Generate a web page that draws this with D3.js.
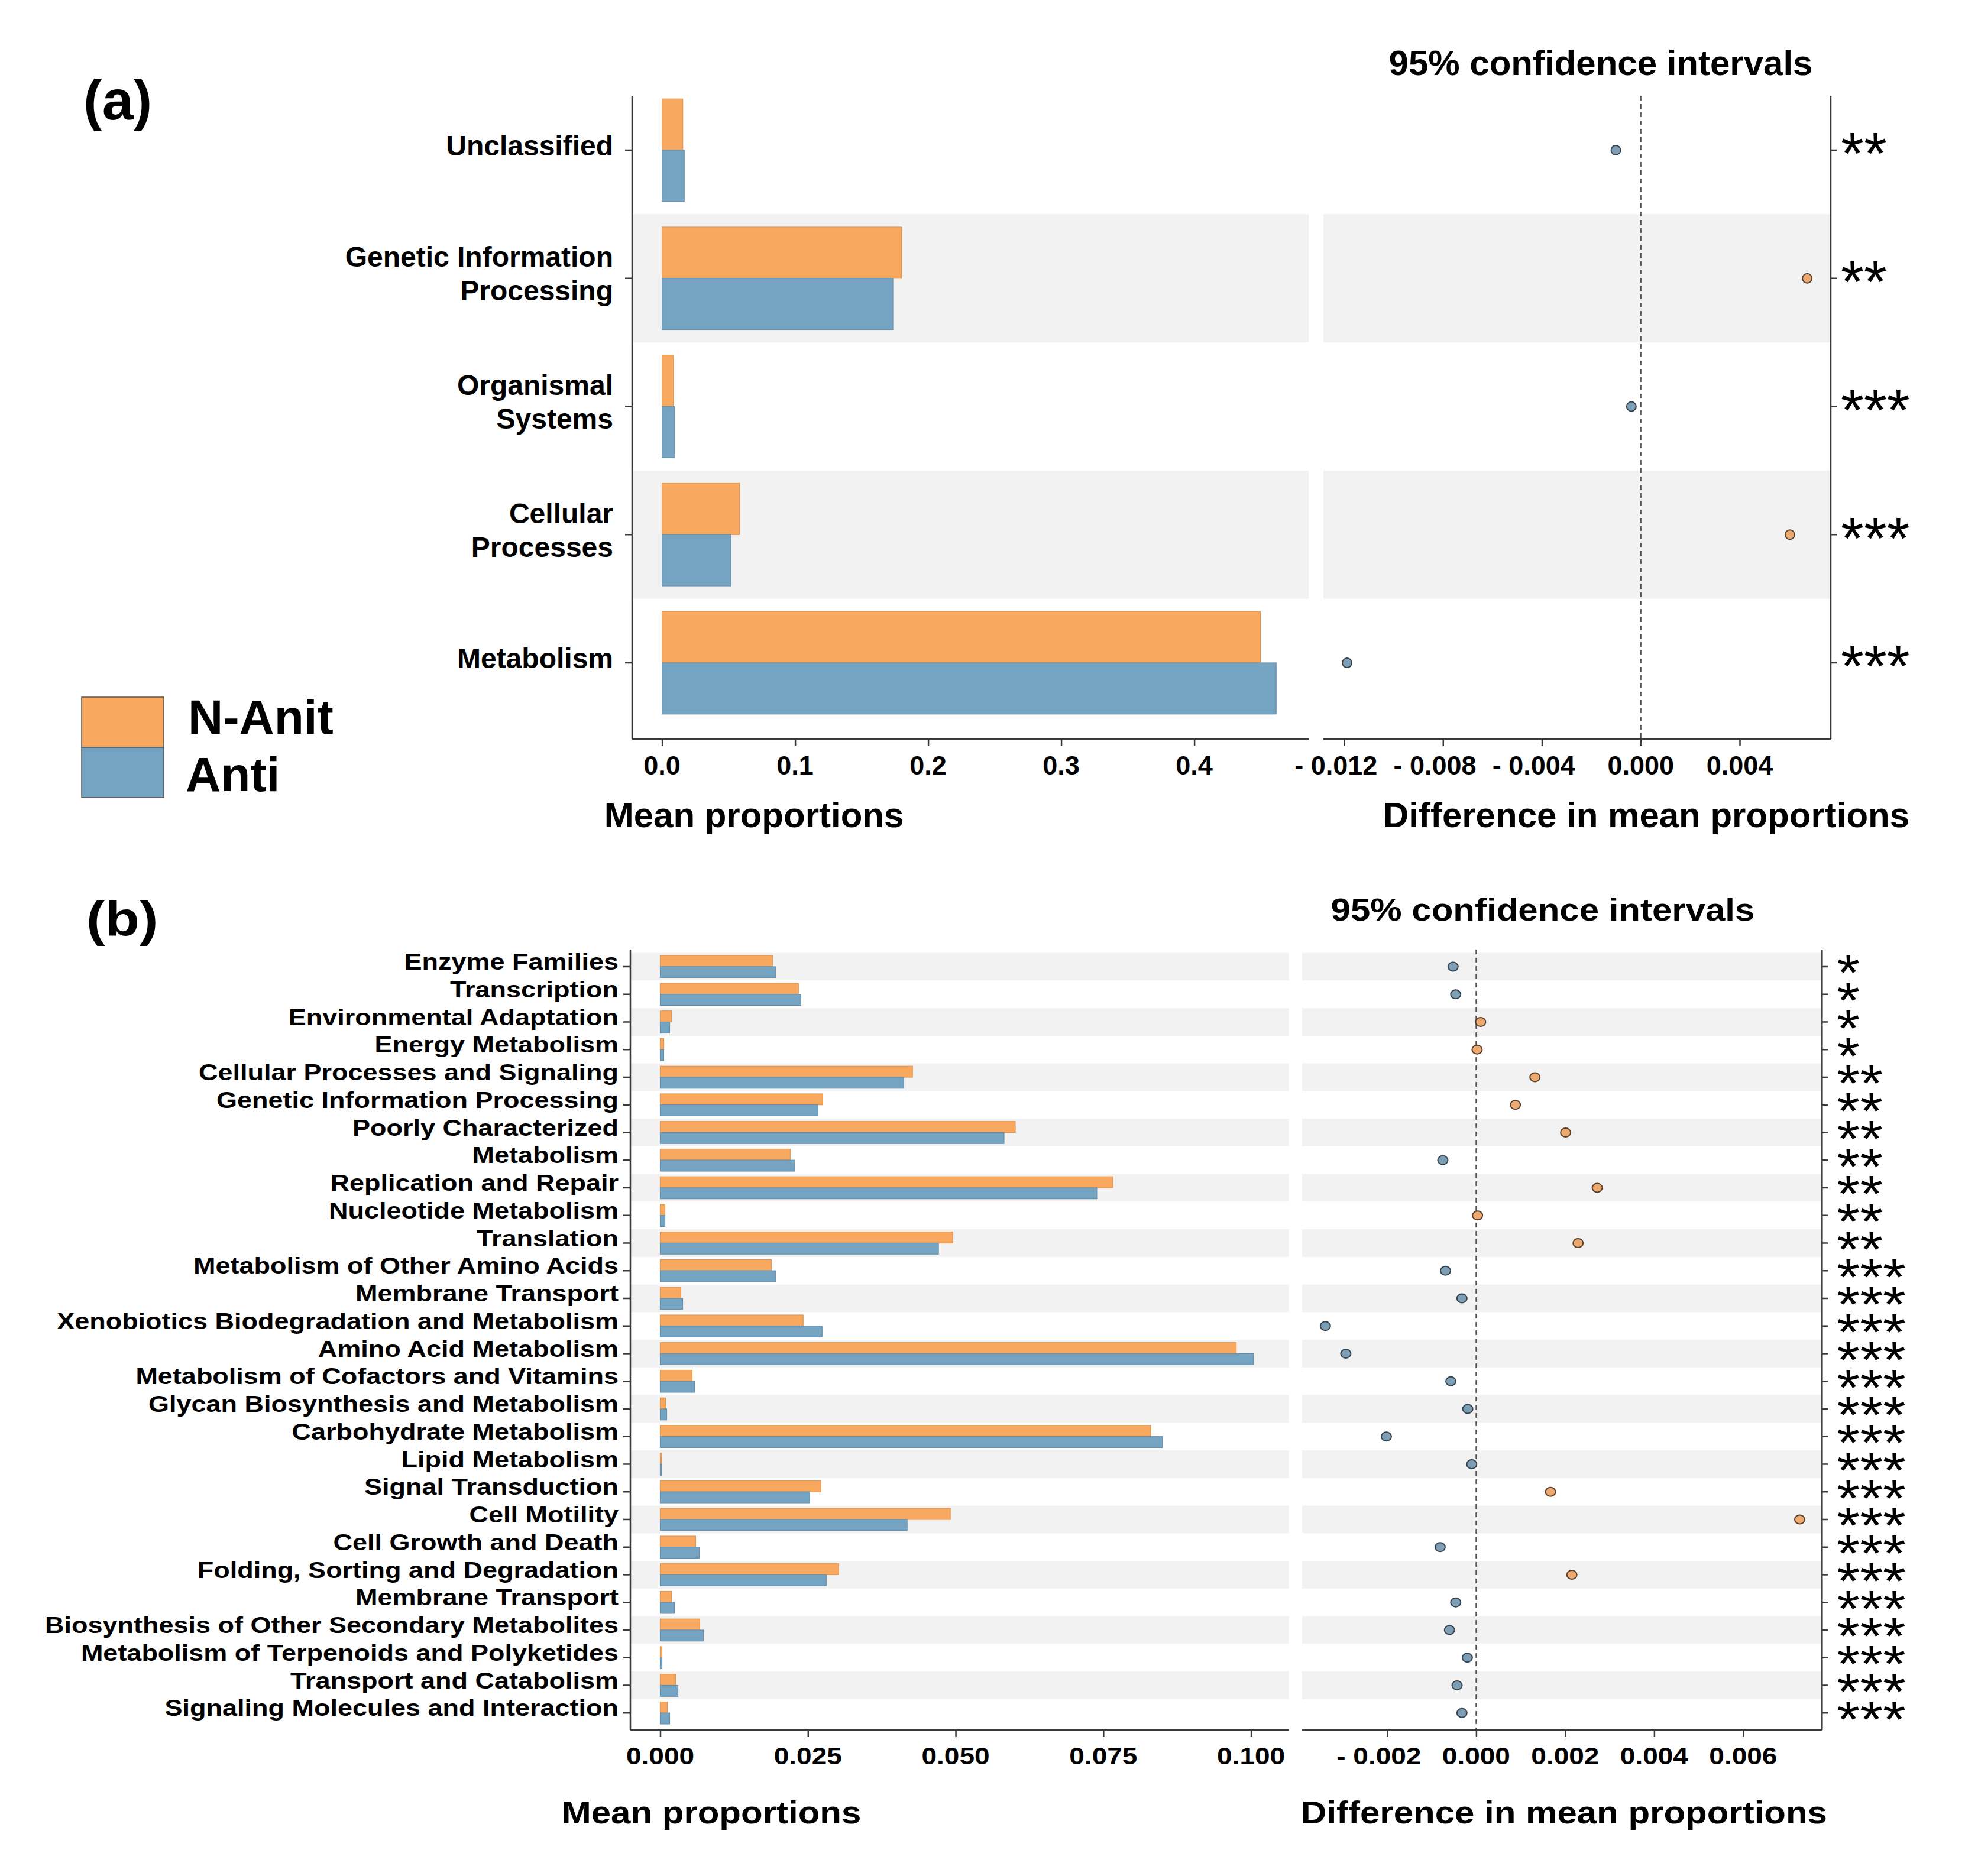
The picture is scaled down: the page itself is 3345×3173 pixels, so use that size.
<!DOCTYPE html>
<html><head><meta charset="utf-8">
<script src="https://cdn.jsdelivr.net/npm/d3@7"></script>
<style>html,body{margin:0;padding:0;background:#fff}svg{display:block}</style>
</head><body>
<script>
// ---------------- data ----------------
const groups = ["N-Anit", "Anti"];

const catsA  = ["Unclassified", "Genetic Information\nProcessing", "Organismal\nSystems", "Cellular\nProcesses", "Metabolism"];
const nAnitA = [0.0156, 0.1800, 0.0085, 0.0582, 0.4497];
const antiA  = [0.0167, 0.1735, 0.0092, 0.0517, 0.4616];
const diffA  = [-0.00101, 0.00673, -0.00038, 0.00603, -0.01188];
const sigA   = ["**", "**", "***", "***", "***"];
const meanTicksA = [0, 0.1, 0.2, 0.3, 0.4];
const diffTicksA = [-0.012, -0.008, -0.004, 0, 0.004];

const catsB = ["Enzyme Families", "Transcription", "Environmental Adaptation", "Energy Metabolism",
  "Cellular Processes and Signaling", "Genetic Information Processing", "Poorly Characterized", "Metabolism",
  "Replication and Repair", "Nucleotide Metabolism", "Translation", "Metabolism of Other Amino Acids",
  "Membrane Transport", "Xenobiotics Biodegradation and Metabolism", "Amino Acid Metabolism",
  "Metabolism of Cofactors and Vitamins", "Glycan Biosynthesis and Metabolism", "Carbohydrate Metabolism",
  "Lipid Metabolism", "Signal Transduction", "Cell Motility", "Cell Growth and Death",
  "Folding, Sorting and Degradation", "Membrane Transport", "Biosynthesis of Other Secondary Metabolites",
  "Metabolism of Terpenoids and Polyketides", "Transport and Catabolism", "Signaling Molecules and Interaction"];
const nAnitB = [0.0190, 0.0234, 0.0019, 0.0006, 0.0427, 0.0275, 0.0601, 0.0220, 0.0766, 0.0008, 0.0495, 0.0188, 0.0035, 0.0242,
  0.0975, 0.0054, 0.0009, 0.0830, 0.0002, 0.0272, 0.0491, 0.0060, 0.0302, 0.0019, 0.0067, 0.0003, 0.0026, 0.0012];
const antiB  = [0.0195, 0.0238, 0.0016, 0.0006, 0.0412, 0.0267, 0.0582, 0.0227, 0.0739, 0.0008, 0.0471, 0.0195, 0.0038, 0.0274,
  0.1004, 0.0058, 0.0011, 0.0850, 0.0002, 0.0253, 0.0418, 0.0066, 0.0281, 0.0024, 0.0073, 0.0003, 0.0030, 0.0016];
const diffB  = [-0.00052, -0.00046, 0.00010, 0.00002, 0.00132, 0.00088, 0.00201, -0.00075, 0.00272, 0.00003, 0.00229, -0.00069,
  -0.00032, -0.00339, -0.00293, -0.00057, -0.00019, -0.00202, -0.00010, 0.00167, 0.00727, -0.00081, 0.00215, -0.00046,
  -0.00060, -0.00020, -0.00043, -0.00032];
const sigB   = ["*", "*", "*", "*", "**", "**", "**", "**", "**", "**", "**", "***", "***", "***", "***", "***", "***", "***",
  "***", "***", "***", "***", "***", "***", "***", "***", "***", "***"];
const meanTicksB = [0, 0.025, 0.05, 0.075, 0.1];
const diffTicksB = [-0.002, 0, 0.002, 0.004, 0.006];

// ---------------- style / layout ----------------
const C = {orange: "#F8A95F", blue: "#75A4C2", orangeEdge: "#E3964F", blueEdge: "#6690AC",
           band: "#F2F2F2", axis: "#3a3a3a", ptO: "#ECAA72", ptB: "#7E9EB6",
           ptStrokeO: "#5a3f28", ptStrokeB: "#35434f"};

const svg = d3.select("body").append("svg")
  .attr("width", 3345).attr("height", 3173)
  .style("font-family", "'Liberation Sans', Arial, Helvetica, sans-serif");
svg.append("rect").attr("width", 3345).attr("height", 3173).attr("fill", "#fff");

const LA = {
  yRange: [145.6, 1229.4], axisTop: 162, axisBottom: 1250,
  leftAxisX: 1069, leftEnd: 2213, rightStart: 2238, rightAxisX: 3096,
  meanRange: [1119.6, 2019.6], diffRange: [2273, 2942],
  grayParity: 1, sy: 1, labelFs: 48, labelX: 1037, labelDy: -8, lineH: 57,
  tickFs: 45, tickLabelY: 1310, tickLen: 12, r: 8,
  starFs: 100, starDx: 17, starCenterDy: -17,
  titleFs: 60, ciTitle: [2707, 127], meanTitle: [1275, 1399], diffTitle: [2784, 1399],
  panelLabel: ["(a)", 141, 202], fmtMean: d3.format(".1f")
};
const LB = {
  yRange: [1611.6, 2920.6], axisTop: 1606, axisBottom: 2926,
  leftAxisX: 1066, leftEnd: 2179.5, rightStart: 2201.8, rightAxisX: 3081.3,
  meanRange: [1116.5, 2115.6], diffRange: [2345.9, 2947.9],
  grayParity: 0, sy: 0.88, labelFs: 45, labelX: 1046, labelDy: -9, lineH: 0,
  tickFs: 46, tickLabelY: 2984, tickLen: 12, r: 8.5,
  starFs: 100, starDx: 25, starCenterDy: -10,
  titleFs: 60, ciTitle: [2609, 1557], meanTitle: [1203, 3084], diffTitle: [2645, 3084],
  panelLabel: ["(b)", 146, 1583], fmtMean: d3.format(".3f")
};
const fmtDiff = d3.format(".3f");

function drawPanel(P, cats, nA, an, df, sig, mTicks, dTicks) {
  const g = svg.append("g");
  const idx = cats.map((d, i) => i);
  const y = d3.scaleBand().domain(idx).range(P.yRange).padding(0);
  const bw = y.bandwidth();
  const cy = i => y(i) + bw / 2;
  const xm = d3.scaleLinear().domain([mTicks[0], mTicks[mTicks.length - 1]]).range(P.meanRange);
  const xd = d3.scaleLinear().domain([dTicks[0], dTicks[dTicks.length - 1]]).range(P.diffRange);

  const text = (x, yy, s, fs, anchor, weight) => g.append("text")
    .attr("transform", `translate(${x},${yy}) scale(1,${P.sy})`)
    .attr("text-anchor", anchor).attr("font-size", fs)
    .attr("font-weight", weight || "bold").attr("fill", "#000").text(s);

  // alternating background bands
  const grayIdx = idx.filter(i => i % 2 === P.grayParity);
  g.selectAll(null).data(grayIdx).join("rect")
    .attr("x", P.leftAxisX).attr("width", P.leftEnd - P.leftAxisX)
    .attr("y", i => y(i)).attr("height", bw).attr("fill", C.band);
  g.selectAll(null).data(grayIdx).join("rect")
    .attr("x", P.rightStart).attr("width", P.rightAxisX - P.rightStart)
    .attr("y", i => y(i)).attr("height", bw).attr("fill", C.band);

  // bars
  g.selectAll(null).data(idx).join("rect")
    .attr("x", xm(0)).attr("y", i => y(i) + bw * 0.1)
    .attr("width", i => xm(nA[i]) - xm(0)).attr("height", bw * 0.4)
    .attr("fill", C.orange).attr("stroke", C.orangeEdge).attr("stroke-width", 1.2);
  g.selectAll(null).data(idx).join("rect")
    .attr("x", xm(0)).attr("y", i => y(i) + bw * 0.5)
    .attr("width", i => xm(an[i]) - xm(0)).attr("height", bw * 0.4)
    .attr("fill", C.blue).attr("stroke", C.blueEdge).attr("stroke-width", 1.2);

  // zero line
  g.append("line").attr("x1", xd(0)).attr("x2", xd(0))
    .attr("y1", P.axisTop).attr("y2", P.axisBottom)
    .attr("stroke", "#555").attr("stroke-width", 2.2).attr("stroke-dasharray", "8,6");

  // difference points
  g.selectAll(null).data(idx).join("ellipse")
    .attr("cx", i => xd(df[i])).attr("cy", cy)
    .attr("rx", P.r).attr("ry", P.r * P.sy)
    .attr("fill", i => df[i] > 0 ? C.ptO : C.ptB)
    .attr("stroke", i => df[i] > 0 ? C.ptStrokeO : C.ptStrokeB).attr("stroke-width", 2);

  // axis lines
  const line = (x1, y1, x2, y2) => g.append("line").attr("x1", x1).attr("y1", y1).attr("x2", x2).attr("y2", y2)
    .attr("stroke", C.axis).attr("stroke-width", 2.5);
  line(P.leftAxisX, P.axisTop, P.leftAxisX, P.axisBottom);
  line(P.leftAxisX, P.axisBottom, P.leftEnd, P.axisBottom);
  line(P.rightStart, P.axisBottom, P.rightAxisX, P.axisBottom);
  line(P.rightAxisX, P.axisTop, P.rightAxisX, P.axisBottom);

  // tick marks through d3 axes
  const styleAxis = sel => { sel.select(".domain").remove();
    sel.selectAll(".tick line").attr("stroke", C.axis).attr("stroke-width", 2.5); };
  g.append("g").attr("transform", `translate(${P.leftAxisX},0)`)
    .call(d3.axisLeft(y).tickSize(P.tickLen).tickFormat("")).call(styleAxis);
  g.append("g").attr("transform", `translate(${P.rightAxisX},0)`)
    .call(d3.axisRight(y).tickSize(10).tickFormat("")).call(styleAxis);
  g.append("g").attr("transform", `translate(0,${P.axisBottom})`)
    .call(d3.axisBottom(xm).tickValues(mTicks).tickSize(P.tickLen).tickFormat("")).call(styleAxis);
  g.append("g").attr("transform", `translate(0,${P.axisBottom})`)
    .call(d3.axisBottom(xd).tickValues(dTicks).tickSize(P.tickLen).tickFormat("")).call(styleAxis);

  // tick labels
  mTicks.forEach(t => text(xm(t), P.tickLabelY, P.fmtMean(t), P.tickFs, "middle"));
  dTicks.forEach(t => {
    if (t < 0) text(xd(t) - P.tickFs * 0.3055, P.tickLabelY, "- " + fmtDiff(-t), P.tickFs, "middle");
    else text(xd(t), P.tickLabelY, fmtDiff(t), P.tickFs, "middle");
  });

  // category labels
  const capH = 0.716 * P.labelFs * P.sy;
  idx.forEach(i => {
    const lines = cats[i].split("\n");
    const n = lines.length;
    lines.forEach((s, k) => {
      const yy = cy(i) + P.labelDy + (k - (n - 1) / 2) * P.lineH + capH / 2;
      text(P.labelX, yy, s, P.labelFs, "end");
    });
  });

  // significance stars: one text element, one tspan per category row
  const stars = g.append("text")
    .attr("transform", `scale(1,${P.sy})`)
    .attr("font-size", P.starFs).attr("font-weight", "normal").attr("fill", "#000");
  stars.selectAll("tspan").data(idx).join("tspan")
    .attr("x", P.rightAxisX + P.starDx)
    .attr("y", i => (cy(i) + P.starCenterDy) / P.sy + 0.573 * P.starFs)
    .text(i => sig[i]);

  // titles
  text(P.ciTitle[0], P.ciTitle[1], "95% confidence intervals", P.titleFs, "middle");
  text(P.meanTitle[0], P.meanTitle[1], "Mean proportions", P.titleFs, "middle");
  text(P.diffTitle[0], P.diffTitle[1], "Difference in mean proportions", P.titleFs, "middle");
  text(P.panelLabel[1], P.panelLabel[2], P.panelLabel[0], 95, "start");
}

drawPanel(LA, catsA, nAnitA, antiA, diffA, sigA, meanTicksA, diffTicksA);
drawPanel(LB, catsB, nAnitB, antiB, diffB, sigB, meanTicksB, diffTicksB);

// legend
const leg = svg.append("g");
const legColors = [C.orange, C.blue];
const legY = d3.scaleBand().domain(groups).range([1179, 1349]);
const legBaseline = [62, 74];
leg.selectAll(null).data(groups).join("rect")
  .attr("x", 138).attr("y", d => legY(d)).attr("width", 139).attr("height", legY.bandwidth())
  .attr("fill", (d, i) => legColors[i]).attr("stroke", "#555").attr("stroke-width", 1.5);
leg.selectAll(null).data(groups).join("text")
  .attr("x", (d, i) => i === 0 ? 318 : 314)
  .attr("y", (d, i) => legY(d) + legBaseline[i])
  .attr("font-size", 82).attr("font-weight", "bold").attr("fill", "#000")
  .text(d => d);
</script>
</body></html>
